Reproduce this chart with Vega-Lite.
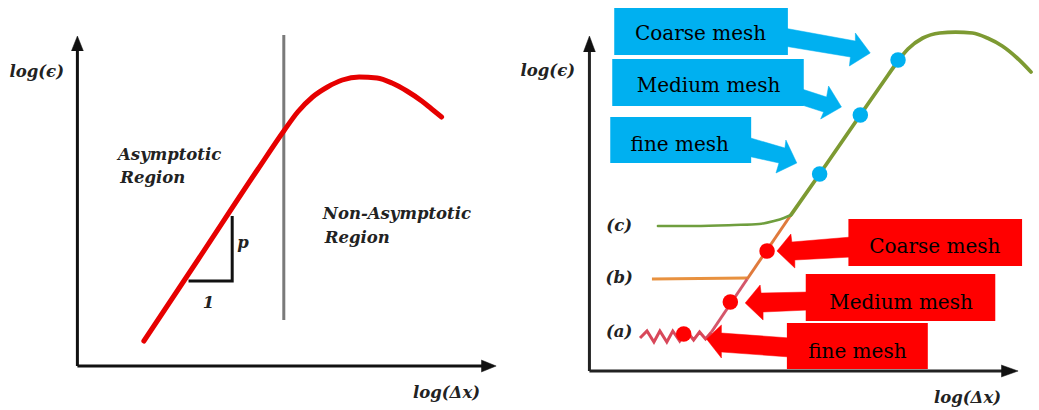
{
  "$schema": "https://vega.github.io/schema/vega-lite/v6.json",
  "width": 1039,
  "height": 410,
  "autosize": {"type": "fit", "contains": "padding"},
  "padding": 0,
  "background": "white",
  "config": {"view": {"stroke": null}},
  "resolve": {"scale": {"color": "independent", "strokeWidth": "independent"}},
  "datasets": {
    "smooth": [
      {"s": "left_curve", "i": 1, "x": 145, "y": 341},
      {"s": "left_curve", "i": 2, "x": 200, "y": 259},
      {"s": "left_curve", "i": 3, "x": 260, "y": 169},
      {"s": "left_curve", "i": 4, "x": 286, "y": 131},
      {"s": "left_curve", "i": 5, "x": 300, "y": 112},
      {"s": "left_curve", "i": 6, "x": 315, "y": 97},
      {"s": "left_curve", "i": 7, "x": 330, "y": 87},
      {"s": "left_curve", "i": 8, "x": 345, "y": 80},
      {"s": "left_curve", "i": 9, "x": 362, "y": 77},
      {"s": "left_curve", "i": 10, "x": 380, "y": 78},
      {"s": "left_curve", "i": 11, "x": 395, "y": 83},
      {"s": "left_curve", "i": 12, "x": 410, "y": 91},
      {"s": "left_curve", "i": 13, "x": 425, "y": 101},
      {"s": "left_curve", "i": 14, "x": 435, "y": 109},
      {"s": "left_curve", "i": 15, "x": 445, "y": 117},
      {"s": "main_up", "i": 1, "x": 797, "y": 215},
      {"s": "main_up", "i": 2, "x": 826, "y": 174},
      {"s": "main_up", "i": 3, "x": 867, "y": 115},
      {"s": "main_up", "i": 4, "x": 895, "y": 75},
      {"s": "main_up", "i": 5, "x": 905, "y": 61},
      {"s": "main_up", "i": 6, "x": 915, "y": 49},
      {"s": "main_up", "i": 7, "x": 930, "y": 38},
      {"s": "main_up", "i": 8, "x": 947, "y": 33},
      {"s": "main_up", "i": 9, "x": 963, "y": 32},
      {"s": "main_up", "i": 10, "x": 980, "y": 33},
      {"s": "main_up", "i": 11, "x": 995, "y": 38},
      {"s": "main_up", "i": 12, "x": 1010, "y": 46},
      {"s": "main_up", "i": 13, "x": 1025, "y": 58},
      {"s": "main_up", "i": 14, "x": 1039, "y": 72},
      {"s": "c", "i": 1, "x": 663, "y": 226},
      {"s": "c", "i": 2, "x": 700, "y": 226},
      {"s": "c", "i": 3, "x": 740, "y": 225},
      {"s": "c", "i": 4, "x": 765, "y": 224},
      {"s": "c", "i": 5, "x": 780, "y": 221},
      {"s": "c", "i": 6, "x": 790, "y": 218},
      {"s": "c", "i": 7, "x": 797, "y": 215}
    ],
    "straight": [
      {"s": "axis", "i": 1, "x": 78, "y": 366},
      {"s": "axis", "i": 2, "x": 78, "y": 46},
      {"s": "axis2", "i": 1, "x": 78, "y": 366},
      {"s": "axis2", "i": 2, "x": 490, "y": 366},
      {"s": "axis3", "i": 1, "x": 594, "y": 371},
      {"s": "axis3", "i": 2, "x": 594, "y": 48},
      {"s": "axis4", "i": 1, "x": 594, "y": 371},
      {"s": "axis4", "i": 2, "x": 1012, "y": 371},
      {"s": "divider", "i": 1, "x": 286, "y": 35},
      {"s": "divider", "i": 2, "x": 286, "y": 320},
      {"s": "tri", "i": 1, "x": 190, "y": 281},
      {"s": "tri", "i": 2, "x": 234, "y": 281},
      {"s": "tri", "i": 3, "x": 234, "y": 216},
      {"s": "b", "i": 1, "x": 657, "y": 279},
      {"s": "b", "i": 2, "x": 753, "y": 278},
      {"s": "main_low", "i": 1, "x": 717, "y": 332},
      {"s": "main_low", "i": 2, "x": 753, "y": 279},
      {"s": "main_mid", "i": 1, "x": 753, "y": 279},
      {"s": "main_mid", "i": 2, "x": 797, "y": 215},
      {"s": "a", "i": 1, "x": 645, "y": 338},
      {"s": "a", "i": 2, "x": 652, "y": 331},
      {"s": "a", "i": 3, "x": 659, "y": 342},
      {"s": "a", "i": 4, "x": 665, "y": 331},
      {"s": "a", "i": 5, "x": 672, "y": 342},
      {"s": "a", "i": 6, "x": 678, "y": 331},
      {"s": "a", "i": 7, "x": 685, "y": 341},
      {"s": "a", "i": 8, "x": 692, "y": 331},
      {"s": "a", "i": 9, "x": 699, "y": 340},
      {"s": "a", "i": 10, "x": 705, "y": 332},
      {"s": "a", "i": 11, "x": 711, "y": 339},
      {"s": "a", "i": 12, "x": 717, "y": 332}
    ],
    "shapes": [
      {"g": "black", "s": "h1", "i": 1, "x": 72, "y": 51},
      {"g": "black", "s": "h1", "i": 2, "x": 78, "y": 36},
      {"g": "black", "s": "h1", "i": 3, "x": 84, "y": 51},
      {"g": "black", "s": "h2", "i": 1, "x": 485, "y": 360},
      {"g": "black", "s": "h2", "i": 2, "x": 500, "y": 366},
      {"g": "black", "s": "h2", "i": 3, "x": 485, "y": 372},
      {"g": "black", "s": "h3", "i": 1, "x": 588, "y": 52},
      {"g": "black", "s": "h3", "i": 2, "x": 594, "y": 36},
      {"g": "black", "s": "h3", "i": 3, "x": 600, "y": 52},
      {"g": "black", "s": "h4", "i": 1, "x": 1009, "y": 365},
      {"g": "black", "s": "h4", "i": 2, "x": 1026, "y": 371},
      {"g": "black", "s": "h4", "i": 3, "x": 1009, "y": 377},
      {"g": "blue", "s": "bc", "i": 1, "x": 790, "y": 28},
      {"g": "blue", "s": "bc", "i": 2, "x": 862, "y": 41},
      {"g": "blue", "s": "bc", "i": 3, "x": 862, "y": 33},
      {"g": "blue", "s": "bc", "i": 4, "x": 877, "y": 53},
      {"g": "blue", "s": "bc", "i": 5, "x": 856, "y": 66},
      {"g": "blue", "s": "bc", "i": 6, "x": 857, "y": 57},
      {"g": "blue", "s": "bc", "i": 7, "x": 790, "y": 46},
      {"g": "blue", "s": "bm", "i": 1, "x": 805, "y": 88},
      {"g": "blue", "s": "bm", "i": 2, "x": 833, "y": 97},
      {"g": "blue", "s": "bm", "i": 3, "x": 835, "y": 86},
      {"g": "blue", "s": "bm", "i": 4, "x": 848, "y": 107},
      {"g": "blue", "s": "bm", "i": 5, "x": 827, "y": 119},
      {"g": "blue", "s": "bm", "i": 6, "x": 830, "y": 112},
      {"g": "blue", "s": "bm", "i": 7, "x": 805, "y": 104},
      {"g": "blue", "s": "bf", "i": 1, "x": 753, "y": 137},
      {"g": "blue", "s": "bf", "i": 2, "x": 791, "y": 148},
      {"g": "blue", "s": "bf", "i": 3, "x": 792, "y": 140},
      {"g": "blue", "s": "bf", "i": 4, "x": 803, "y": 163},
      {"g": "blue", "s": "bf", "i": 5, "x": 782, "y": 173},
      {"g": "blue", "s": "bf", "i": 6, "x": 785, "y": 163},
      {"g": "blue", "s": "bf", "i": 7, "x": 753, "y": 156},
      {"g": "red", "s": "rc", "i": 1, "x": 858, "y": 237},
      {"g": "red", "s": "rc", "i": 2, "x": 798, "y": 242},
      {"g": "red", "s": "rc", "i": 3, "x": 797, "y": 234},
      {"g": "red", "s": "rc", "i": 4, "x": 783, "y": 251},
      {"g": "red", "s": "rc", "i": 5, "x": 801, "y": 268},
      {"g": "red", "s": "rc", "i": 6, "x": 801, "y": 260},
      {"g": "red", "s": "rc", "i": 7, "x": 858, "y": 257},
      {"g": "red", "s": "rm", "i": 1, "x": 815, "y": 292},
      {"g": "red", "s": "rm", "i": 2, "x": 767, "y": 293},
      {"g": "red", "s": "rm", "i": 3, "x": 766, "y": 285},
      {"g": "red", "s": "rm", "i": 4, "x": 751, "y": 303},
      {"g": "red", "s": "rm", "i": 5, "x": 769, "y": 320},
      {"g": "red", "s": "rm", "i": 6, "x": 769, "y": 312},
      {"g": "red", "s": "rm", "i": 7, "x": 815, "y": 310},
      {"g": "red", "s": "rf", "i": 1, "x": 796, "y": 338},
      {"g": "red", "s": "rf", "i": 2, "x": 727, "y": 333},
      {"g": "red", "s": "rf", "i": 3, "x": 727, "y": 325},
      {"g": "red", "s": "rf", "i": 4, "x": 712, "y": 339},
      {"g": "red", "s": "rf", "i": 5, "x": 727, "y": 358},
      {"g": "red", "s": "rf", "i": 6, "x": 727, "y": 352},
      {"g": "red", "s": "rf", "i": 7, "x": 796, "y": 357}
    ],
    "boxes": [
      {"g": "blue", "x": 619, "x2": 794, "y": 8, "y2": 55, "label": "Coarse mesh", "tx": 706, "ty": 34},
      {"g": "blue", "x": 617, "x2": 810, "y": 59, "y2": 106, "label": "Medium mesh", "tx": 714, "ty": 86},
      {"g": "blue", "x": 615, "x2": 757, "y": 117, "y2": 163, "label": "fine mesh", "tx": 685, "ty": 145},
      {"g": "red", "x": 855, "x2": 1030, "y": 219, "y2": 266, "label": "Coarse mesh", "tx": 942, "ty": 247},
      {"g": "red", "x": 812, "x2": 1003, "y": 274, "y2": 321, "label": "Medium mesh", "tx": 908, "ty": 303},
      {"g": "red", "x": 793, "x2": 935, "y": 323, "y2": 369, "label": "fine mesh", "tx": 864, "ty": 352}
    ],
    "dots": [
      {"g": "blue", "x": 905, "y": 60},
      {"g": "blue", "x": 867, "y": 115},
      {"g": "blue", "x": 826, "y": 174},
      {"g": "red", "x": 773, "y": 251},
      {"g": "red", "x": 736, "y": 302},
      {"g": "red", "x": 689, "y": 334}
    ],
    "labels": [
      {"t": "log(ϵ)", "x": 37, "y": 72},
      {"t": "log(Δx)", "x": 450, "y": 393},
      {"t": "Asymptotic", "x": 171, "y": 155},
      {"t": "Region", "x": 154, "y": 178},
      {"t": "Non-Asymptotic", "x": 400, "y": 214},
      {"t": "Region", "x": 360, "y": 238},
      {"t": "p", "x": 245, "y": 243},
      {"t": "1", "x": 210, "y": 303},
      {"t": "log(ϵ)", "x": 552, "y": 71},
      {"t": "log(Δx)", "x": 975, "y": 398},
      {"t": "(c)", "x": 624, "y": 226},
      {"t": "(b)", "x": 624, "y": 278},
      {"t": "(a)", "x": 624, "y": 332}
    ]
  },
  "encoding": {
    "x": {"field": "x", "type": "quantitative", "scale": {"domain": [0, 1039], "nice": false, "zero": false}, "axis": null},
    "y": {"field": "y", "type": "quantitative", "scale": {"domain": [0, 410], "nice": false, "zero": false, "reverse": true}, "axis": null}
  },
  "layer": [
    {
      "data": {"name": "straight"},
      "mark": {"type": "line", "interpolate": "linear", "strokeCap": "butt"},
      "encoding": {
        "detail": {"field": "s"},
        "order": {"field": "i", "type": "quantitative"},
        "color": {"field": "s", "type": "nominal", "legend": null, "scale": {"domain": ["axis", "axis2", "axis3", "axis4", "divider", "tri", "b", "main_low", "main_mid", "a"], "range": ["#111111", "#111111", "#222222", "#222222", "#7a7a7a", "#111111", "#e8913f", "#d4566a", "#e07a3c", "#d8485a"]}},
        "strokeWidth": {"field": "s", "type": "nominal", "legend": null, "scale": {"domain": ["axis", "axis2", "axis3", "axis4", "divider", "tri", "b", "main_low", "main_mid", "a"], "range": [3, 3, 3, 3, 2, 2.5, 2.5, 2.5, 2.5, 2]}}
      }
    },
    {
      "data": {"name": "smooth"},
      "mark": {"type": "line", "interpolate": "monotone", "strokeCap": "round"},
      "encoding": {
        "detail": {"field": "s"},
        "order": {"field": "i", "type": "quantitative"},
        "color": {"field": "s", "type": "nominal", "legend": null, "scale": {"domain": ["left_curve", "main_up", "c"], "range": ["#e60000", "#7d9a32", "#6f9e3e"]}},
        "strokeWidth": {"field": "s", "type": "nominal", "legend": null, "scale": {"domain": ["left_curve", "main_up", "c"], "range": [5, 2.5, 2.5]}}
      }
    },
    {
      "data": {"name": "shapes"},
      "transform": [{"filter": "datum.g === 'black'"}],
      "mark": {"type": "line", "fill": "#111111", "stroke": "#111111", "strokeWidth": 0.5},
      "encoding": {"detail": {"field": "s"}, "order": {"field": "i", "type": "quantitative"}}
    },
    {
      "data": {"name": "shapes"},
      "transform": [{"filter": "datum.g === 'blue'"}],
      "mark": {"type": "line", "fill": "#00b0f0", "stroke": "#00b0f0", "strokeWidth": 0.5},
      "encoding": {"detail": {"field": "s"}, "order": {"field": "i", "type": "quantitative"}}
    },
    {
      "data": {"name": "shapes"},
      "transform": [{"filter": "datum.g === 'red'"}],
      "mark": {"type": "line", "fill": "#ff0000", "stroke": "#ff0000", "strokeWidth": 0.5},
      "encoding": {"detail": {"field": "s"}, "order": {"field": "i", "type": "quantitative"}}
    },
    {
      "data": {"name": "boxes"},
      "mark": {"type": "rect"},
      "encoding": {
        "x2": {"field": "x2"},
        "y2": {"field": "y2"},
        "color": {"field": "g", "type": "nominal", "legend": null, "scale": {"domain": ["blue", "red"], "range": ["#00b0f0", "#ff0000"]}}
      }
    },
    {
      "data": {"name": "boxes"},
      "mark": {"type": "text", "font": "DejaVu Serif", "fontSize": 20, "color": "#000000", "align": "center", "baseline": "middle"},
      "encoding": {
        "x": {"field": "tx", "type": "quantitative"},
        "y": {"field": "ty", "type": "quantitative"},
        "text": {"field": "label"}
      }
    },
    {
      "data": {"name": "dots"},
      "mark": {"type": "point", "filled": true, "opacity": 1, "size": 240},
      "encoding": {
        "color": {"field": "g", "type": "nominal", "legend": null, "scale": {"domain": ["blue", "red"], "range": ["#00b0f0", "#ff0000"]}}
      }
    },
    {
      "data": {"name": "labels"},
      "mark": {"type": "text", "font": "DejaVu Serif", "fontSize": 16.5, "fontStyle": "italic", "fontWeight": "bold", "color": "#222222", "align": "center", "baseline": "middle"},
      "encoding": {"text": {"field": "t"}}
    }
  ]
}
